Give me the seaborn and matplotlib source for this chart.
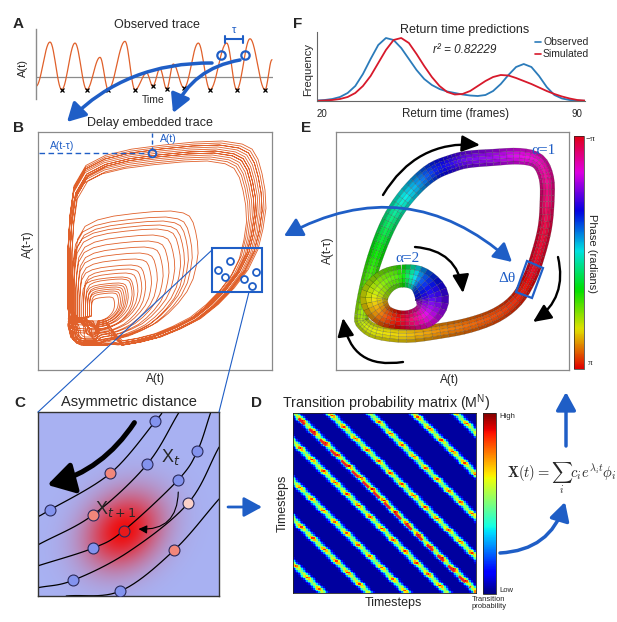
import numpy as np
import pandas as pd
import matplotlib
matplotlib.use("Agg")
import matplotlib.pyplot as plt
import matplotlib as mpl
import seaborn as sns
from matplotlib.patches import FancyArrowPatch, Polygon, Rectangle
from matplotlib.collections import PolyCollection
from matplotlib.colors import Normalize, ListedColormap

# ------------------------------------------------------------------ data
# A: extrema of the observed trace (time, amplitude above baseline)
trace_time = [0, 14, 25.7, 39, 50.7, 64, 72.3, 89, 99, 110.7, 116.7, 124, 130.7,
              137.3, 148, 162.3, 174, 190.7, 200.7, 214, 229, 236]
trace_amp = [-9.3, 35, -12.7, 34, -12.7, 19.7, -12.7, 35.7, -12.7, 4, -9.3, 8.3, -12,
             13, -11, 34, -12.7, 34, -12.7, 38.3, -12.7, 17.3]
trough_idx = [2, 4, 6, 8, 10, 12, 14, 16, 18, 20]
tau_times = [185, 209]

# B: pulse peaks / baselines per cycle and one-cycle pulse template
cycle_peak = [1.00, 0.96, 0.38, 0.30, 0.99, 0.93, 0.62, 0.55, 0.27, 0.34, 0.97, 1.02,
              0.64, 0.46, 0.31, 0.24, 0.98, 0.95, 0.52, 0.43, 0.29, 0.36, 0.96, 1.00,
              0.60, 0.58, 0.26, 0.40, 1.01, 0.94, 0.67, 0.49, 0.33, 0.28, 0.97, 0.92]
cycle_base = [0.00, 0.01, 0.08, 0.10, 0.00, 0.02, 0.03, 0.04, 0.11, 0.07, 0.01, 0.00,
              0.02, 0.05, 0.09, 0.12, 0.00, 0.01, 0.04, 0.06, 0.10, 0.08, 0.02, 0.00,
              0.02, 0.03, 0.12, 0.06, 0.00, 0.01, 0.03, 0.05, 0.09, 0.11, 0.01, 0.00]
pulse_profile = [0.0, 0.015, 0.04, 0.08, 0.13, 0.2, 0.28, 0.37, 0.47, 0.57, 0.67, 0.76, 0.84,
                 0.91, 0.96, 0.985, 1.0, 0.995, 0.98, 0.96, 0.93,
                 0.88, 0.78, 0.64, 0.48, 0.32, 0.19, 0.09, 0.03, 0.01, 0.0, 0.0, 0.0]
embed_delay = 6

# C: trajectories (normalised box coords) and neighbour points
traj_1 = [(0, 0.431), (0.064, 0.467), (0.4, 0.667), (0.648, 0.949), (0.688, 1.0)]
traj_2 = [(0, 0.278), (0.303, 0.44), (0.602, 0.715), (0.78, 1.0)]
traj_3 = [(0, 0.164), (0.303, 0.26), (0.473, 0.355), (0.774, 0.631), (0.88, 0.787), (0.955, 1.0)]
traj_4 = [(0, 0.045), (0.193, 0.085), (0.5, 0.24), (0.829, 0.504), (1.0, 0.809)]
traj_5 = [(0.156, 0), (0.455, 0.027), (0.752, 0.249), (1.0, 0.527)]
pts_blue = [(0.064, 0.467), (0.648, 0.949), (0.602, 0.715), (0.303, 0.26), (0.774, 0.631),
            (0.88, 0.787), (0.193, 0.085), (0.455, 0.027)]
pts_salmon = [(0.4, 0.667), (0.303, 0.44), (0.752, 0.249)]
pts_pink = [(0.829, 0.504)]
pt_next = (0.473, 0.355)

# D: transition-matrix stripes
stripe_offsets = [-0.835, -0.587, -0.376, -0.156, 0.01, 0.20, 0.42, 0.66, 0.89]
stripe_peaks = [0.70, 0.73, 0.70, 0.73, 0.76, 0.72, 0.70, 0.73, 0.70]
bead_levels = [0.85, 1.0, 1.22, 1.0, 0.85, 0.76, 0.8]

# E: tube centre lines (u, v), phase (units of pi), half width
outer_u = [0.110, 0.131, 0.167, 0.217, 0.274, 0.346, 0.417, 0.489, 0.560, 0.674, 0.789, 0.867,
           0.903, 0.906, 0.896, 0.867, 0.831, 0.774, 0.689, 0.574, 0.446, 0.303, 0.174, 0.117]
outer_v = [0.231, 0.344, 0.470, 0.596, 0.694, 0.778, 0.835, 0.865, 0.884, 0.893, 0.898, 0.877,
           0.806, 0.708, 0.596, 0.484, 0.386, 0.295, 0.231, 0.189, 0.164, 0.147, 0.161, 0.196]
outer_phase = [0.55, 0.45, 0.35, 0.20, 0.05, -0.12, -0.30, -0.40, -0.50, -0.58, -0.68, -0.75,
               -0.82, -0.88, -0.94, -0.98, -1.00, -1.05, -1.10, -1.15, -1.20, -1.28, -1.35, -1.40]
outer_hw = [0.030, 0.031, 0.033, 0.035, 0.036, 0.037, 0.038, 0.037, 0.036, 0.035, 0.034, 0.033,
            0.032, 0.031, 0.030, 0.030, 0.030, 0.030, 0.031, 0.032, 0.032, 0.032, 0.031, 0.030]
inner_u = [0.283, 0.361, 0.412, 0.382, 0.296, 0.202, 0.163, 0.210]
inner_v = [0.395, 0.378, 0.303, 0.231, 0.210, 0.231, 0.303, 0.370]
inner_phase = [0.35, -0.20, -0.45, -0.70, -0.95, -1.15, -1.35, -1.50]
inner_hw = [0.047, 0.056, 0.073, 0.056, 0.039, 0.047, 0.060, 0.052]

# F: return-time densities
frames = list(range(20, 91, 2))
observed = [0.5, 1, 2, 4, 8, 15, 27, 42, 56, 63, 61, 53, 42, 31, 22, 16, 12, 9.5, 8, 6.5,
            5.5, 5, 6, 10, 17, 26, 34, 37, 34, 25, 14, 6, 2.5, 1, 0.4, 0.2]
simulated = [0.2, 0.5, 1, 2, 4, 8, 15, 25, 38, 51, 61, 63, 58, 47, 35, 24, 15, 9, 6.5, 7,
             10, 15, 20, 24, 26, 25.5, 23, 20, 17, 13.5, 10, 7, 4.5, 2.5, 1, 0.4]

# ------------------------------------------------------------------ style
sns.set_style("white")
plt.rcParams['font.family'] = ['Liberation Sans', 'DejaVu Sans']
SERIF = ['Liberation Serif', 'DejaVu Serif']
BLUE = '#1f5ec6'
ORANGE = '#e0602a'
W, H = 617, 622

fig = plt.figure(figsize=(W / 100, H / 100), dpi=100)


def px_axes(x0, y0, x1, y1, **kw):
    return fig.add_axes([x0 / W, 1 - y1 / H, (x1 - x0) / W, (y1 - y0) / H], **kw)


def cosine_path(times, amps, per=14):
    xs, ys = [], []
    for i in range(len(times) - 1):
        s = np.linspace(0, 1, per, endpoint=False)
        w = (1 - np.cos(np.pi * s)) / 2
        xs.append(times[i] + (times[i + 1] - times[i]) * s)
        ys.append(amps[i] + (amps[i + 1] - amps[i]) * w)
    xs.append([times[-1]]); ys.append([amps[-1]])
    return np.concatenate(xs), np.concatenate(ys)


def catmull(P, per, closed):
    P = np.asarray(P, float)
    n = len(P)
    if closed:
        shift = np.zeros(P.shape[1]); shift[2] = 2.0
        ext = np.vstack([P[-1] + shift, P, P[0] - shift, P[1] - shift])
        segs = range(1, n + 1)
    else:
        ext = np.vstack([2 * P[0] - P[1], P, 2 * P[-1] - P[-2]])
        segs = range(1, n)
    out = []
    for i in segs:
        p0, p1, p2, p3 = ext[i - 1], ext[i], ext[i + 1], ext[i + 2]
        for s in np.linspace(0, 1, per, endpoint=False):
            out.append(0.5 * ((2 * p1) + (-p0 + p2) * s + (2 * p0 - 5 * p1 + 4 * p2 - p3) * s ** 2
                              + (-p0 + 3 * p1 - 3 * p2 + p3) * s ** 3))
    out.append(ext[segs[-1] + 1])
    return np.array(out)


base_hsv = plt.get_cmap('hsv_r')(np.linspace(0, 1, 256))
base_hsv[:, :3] *= 0.88
PHASE_CMAP = ListedColormap(base_hsv)


def tube(ax, u, v, ph, hw, per, K=5):
    S = catmull(np.column_stack([u, v, ph, hw]), per, closed=True)
    C, phs, hws = S[:, :2], S[:, 2], S[:, 3]
    T = np.gradient(C, axis=0)
    T /= np.linalg.norm(T, axis=1, keepdims=True)
    Nn = np.column_stack([-T[:, 1], T[:, 0]])
    offs = np.linspace(-1, 1, K + 1)
    polys, cols = [], []
    for i in range(len(C) - 1):
        col = np.array(PHASE_CMAP((((phs[i] + phs[i + 1]) / 2 + 1) / 2) % 1))
        for j in range(K):
            a, b = offs[j], offs[j + 1]
            polys.append([C[i] + a * hws[i] * Nn[i], C[i] + b * hws[i] * Nn[i],
                          C[i + 1] + b * hws[i + 1] * Nn[i + 1], C[i + 1] + a * hws[i + 1] * Nn[i + 1]])
            m = (a + b) / 2
            shade = 0.70 + 0.30 * np.cos(m * np.pi / 2)
            c = col.copy(); c[:3] = np.clip(c[:3] * shade + 0.05 * (1 - abs(m)), 0, 1)
            cols.append(c)
    pc = PolyCollection(polys, facecolors=cols, edgecolors=(0.1, 0.1, 0.1, 0.35), linewidths=0.3)
    ax.add_collection(pc)


# ------------------------------------------------------------------ A
axA = px_axes(36, 29, 273, 99)
tx, ty = cosine_path(trace_time, trace_amp)
axA.axhline(0, color='#8c8c8c', lw=0.9)
axA.plot(tx, ty, color=ORANGE, lw=0.9)
axA.plot([trace_time[i] for i in trough_idx], [trace_amp[i] for i in trough_idx], 'x',
         color='black', ms=3, mew=0.9)
tau_amp = np.interp(tau_times, tx, ty)
axA.plot(tau_times, tau_amp, 'o', mfc='none', mec=BLUE, ms=6, mew=1.6, zorder=5)
axA.set_xlim(0, 237); axA.set_ylim(-22, 48)
axA.set_xticks([]); axA.set_yticks([])
for k in ['top', 'right', 'bottom']:
    axA.spines[k].set_visible(False)
axA.spines['left'].set_color('#8c8c8c'); axA.spines['left'].set_linewidth(1)
axA.patch.set_alpha(0)

# ------------------------------------------------------------------ B
axB = px_axes(38, 132, 272, 370)
sig = np.concatenate([b + (p - b) * np.array(pulse_profile) for p, b in zip(cycle_peak, cycle_base)])
axB.plot(sig[embed_delay:], sig[:-embed_delay], color=ORANGE, lw=0.6)
axB.set_xlim(-0.155, 1.051); axB.set_ylim(-0.125, 1.065)
axB.set_xticks([]); axB.set_yticks([])
for s in axB.spines.values():
    s.set_color('#8a8a8a'); s.set_linewidth(0.9)

# ------------------------------------------------------------------ C
axC = px_axes(38, 412, 219, 596)
g = np.linspace(0, 1, 240)
GX, GY = np.meshgrid(g, g)
ang = np.deg2rad(40)
dx, dy = GX - pt_next[0], GY - pt_next[1]
ra = dx * np.cos(ang) + dy * np.sin(ang)
rb = -dx * np.sin(ang) + dy * np.cos(ang)
wgt = np.exp(-0.5 * ((ra / 0.16) ** 2 + (rb / 0.13) ** 2))
bg = np.array([168, 178, 243]) / 255
red = np.array([240, 12, 12]) / 255
img = bg[None, None, :] * (1 - wgt[..., None]) + red[None, None, :] * wgt[..., None]
axC.imshow(img, extent=(0, 1, 0, 1), origin='lower', aspect='auto', zorder=0)
for tr in [traj_1, traj_2, traj_3, traj_4, traj_5]:
    cc = catmull(tr, 12, closed=False)
    axC.plot(cc[:, 0], cc[:, 1], color='black', lw=0.9, zorder=2)
for pts, fc in [(pts_blue, '#8393ee'), (pts_salmon, '#f2877a'), (pts_pink, '#fbd0c8'), ([pt_next], '#e8191b')]:
    arr = np.array(pts)
    axC.scatter(arr[:, 0], arr[:, 1], s=62, c=fc, edgecolors='#2a2a5a', linewidths=0.8, zorder=4)
axC.add_patch(FancyArrowPatch((0.541, 0.955), (0.037, 0.6), connectionstyle='arc3,rad=-0.2',
                              arrowstyle='-|>,head_length=1.6,head_width=0.95', mutation_scale=10,
                              lw=3.6, color='black', zorder=5))
axC.add_patch(FancyArrowPatch((0.775, 0.58), (0.54, 0.365), connectionstyle='arc3,rad=-0.55',
                              arrowstyle='-|>,head_length=0.5,head_width=0.25', mutation_scale=10,
                              lw=0.8, color='black', zorder=5))
axC.text(0.734, 0.755, r'X$_t$', fontsize=13, ha='center', va='center', math_fontfamily='dejavusans')
axC.text(0.43, 0.475, r'X$_{t+1}$', fontsize=13, ha='center', va='center', math_fontfamily='dejavusans')
axC.set_xlim(0, 1); axC.set_ylim(0, 1)
axC.set_xticks([]); axC.set_yticks([])
for s in axC.spines.values():
    s.set_color('#333333'); s.set_linewidth(1.0)

# ------------------------------------------------------------------ D
axD = px_axes(293, 413, 476, 593)
caxD = px_axes(483, 413, 496, 594)
n = 110
r = (np.arange(n) + 0.5) / n
YY, XX = np.meshgrid(r, r, indexing='ij')
M = np.full((n, n), 0.03)
rows = np.arange(n)
for k, (c, a) in enumerate(zip(stripe_offsets, stripe_peaks)):
    bead = np.array(bead_levels)[(rows + 3 * k) % len(bead_levels)][:, None]
    M = np.maximum(M, a * bead * np.exp(-0.5 * ((XX - YY - c) / 0.017) ** 2))
sns.heatmap(M, ax=axD, cbar_ax=caxD, cmap='jet', vmin=0, vmax=1,
            xticklabels=False, yticklabels=False)
axD.plot([0.03 * n, 0.97 * n], [0.03 * n, 0.97 * n], color='#e8202a', lw=1.8,
         ls=(0, (3.5, 2.5)))
for s in axD.spines.values():
    s.set_visible(True); s.set_color('#222222'); s.set_linewidth(0.6)
cbD = axD.collections[0].colorbar
cbD.set_ticks([])
cbD.outline.set_linewidth(0.6)

# ------------------------------------------------------------------ E
axE = px_axes(336, 132, 569, 370)
tube(axE, outer_u, outer_v, outer_phase, outer_hw, per=4)
tube(axE, inner_u, inner_v, inner_phase, inner_hw, per=5)
axE.set_xlim(0, 1); axE.set_ylim(0, 1)
axE.set_xticks([]); axE.set_yticks([])
for s in axE.spines.values():
    s.set_color('#8a8a8a'); s.set_linewidth(0.9)
caxE = px_axes(574, 136, 584, 369)
cbE = mpl.colorbar.ColorbarBase(caxE, cmap=PHASE_CMAP, norm=Normalize(-np.pi, np.pi))
caxE.invert_yaxis()
cbE.set_ticks([])
cbE.outline.set_linewidth(0.5)

# ------------------------------------------------------------------ F
axF = px_axes(317, 32, 585, 101)
dfF = pd.DataFrame({'frames': frames * 2, 'freq': observed + simulated,
                    'series': ['Observed'] * len(frames) + ['Simulated'] * len(frames)})
sns.lineplot(data=dfF, x='frames', y='freq', hue='series', ax=axF, legend=False,
             palette={'Observed': '#2b7bba', 'Simulated': '#d7192b'}, lw=1.3)
axF.set_xlim(20, 90); axF.set_ylim(0, 69)
axF.set_xticks([]); axF.set_yticks([])
axF.set_xlabel(''); axF.set_ylabel('')
for k in ['top', 'right']:
    axF.spines[k].set_visible(False)
for k in ['left', 'bottom']:
    axF.spines[k].set_color('#666666'); axF.spines[k].set_linewidth(0.8)
axF.patch.set_alpha(0)

# ------------------------------------------------------------------ overlay
ov = fig.add_axes([0, 0, 1, 1], zorder=20)
ov.set_xlim(0, W); ov.set_ylim(H, 0); ov.axis('off'); ov.patch.set_alpha(0)


def T(x, y, s, size=9, **kw):
    ov.text(x, y, s, fontsize=size, ha=kw.pop('ha', 'center'), va=kw.pop('va', 'center'), **kw)


def arrow(p0, p1, rad=0.0, color=BLUE, lw=2.5, hl=1.1, hw=0.6, both=False):
    st = ('<|-|>' if both else '-|>') + f',head_length={hl},head_width={hw}'
    ov.add_patch(FancyArrowPatch(p0, p1, connectionstyle=f'arc3,rad={rad}', arrowstyle=st,
                                 mutation_scale=10, lw=lw, color=color, shrinkA=0, shrinkB=0))


# panel letters
for lab, (x, y) in {'A': (18, 24), 'B': (18, 128), 'C': (20, 403), 'D': (257, 403),
                    'E': (306, 128), 'F': (298, 24)}.items():
    T(x, y, lab, 11, fontweight='bold')

# titles and labels
T(157, 25, 'Observed trace', 9)
T(153, 100, 'Time', 7.5)
T(23, 68, 'A(t)', 8, rotation=90)
T(150, 123, 'Delay embedded trace', 9)
T(28, 244, 'A(t-τ)', 8.5, rotation=90)
T(156, 379, 'A(t)', 8.5)
T(129, 402, 'Asymmetric distance', 10.5)
T(386, 403, r'Transition probability matrix (M$^\mathregular{N}$)', 10.3)
T(283, 503, 'Timesteps', 9, rotation=90)
T(393, 603, 'Timesteps', 9)
T(499, 416, 'High', 5.5, ha='left')
T(499, 591, 'Low', 5.5, ha='left')
T(489, 603, 'Transition\nprobability', 5.5, linespacing=1.0)
T(328, 250, 'A(t-τ)', 8.5, rotation=90)
T(450, 380, 'A(t)', 8.5)
T(592, 253, 'Phase (radians)', 8, rotation=270)
T(590, 139, '−π', 6.5, family=SERIF)
T(590, 363, 'π', 6.5, family=SERIF)
T(465, 30, 'Return time predictions', 9)
T(465, 50, 'r² = 0.82229', 8.5, style='italic')
T(308, 69, 'Frequency', 8, rotation=90)
T(322, 114, '20', 7)
T(577, 114, '90', 7)
T(455, 114, 'Return time (frames)', 8.4)
ov.plot([535, 541], [42, 42], color='#2b7bba', lw=1.2)
ov.plot([535, 541], [54, 54], color='#d7192b', lw=1.2)
T(543, 42, 'Observed', 7.5, ha='left')
T(543, 54, 'Simulated', 7.5, ha='left')
T(543, 150, 'α=1', 11, color=BLUE, family=SERIF)
T(407, 258, 'α=2', 11, color=BLUE, family=SERIF)
T(507, 279, 'Δθ', 11, color=BLUE, family=SERIF)
T(562, 478, r'$\mathbf{X}(t) = \sum_i c_i e^{\lambda_i t}\phi_i$', 10.5, math_fontfamily='cm')

# tau bracket
ov.plot([225, 243], [39, 39], color=BLUE, lw=1.5)
ov.plot([225, 225], [35.5, 42.5], color=BLUE, lw=1.5)
ov.plot([243, 243], [35.5, 42.5], color=BLUE, lw=1.5)
T(234, 30, 'τ', 8, color=BLUE)

# B annotations
ov.plot([39, 148], [153, 153], color=BLUE, lw=1.0, ls=(0, (4, 2.5)))
ov.plot([152, 152], [133, 149], color=BLUE, lw=1.0, ls=(0, (3, 2)))
ov.plot([152], [153], 'o', mfc='none', mec=BLUE, ms=5.5, mew=1.4)
T(62, 146, 'A(t-τ)', 7.5, color=BLUE)
T(168, 139, 'A(t)', 7.5, color=BLUE)
ov.add_patch(Rectangle((212, 248), 50, 44, fill=False, ec=BLUE, lw=1.5))
for (x, y) in [(230, 261), (218, 270), (225, 277), (244, 279), (256, 272), (252, 286)]:
    ov.plot([x], [y], 'o', mfc='none', mec=BLUE, ms=5, mew=1.3)
ov.plot([212, 38], [250, 412], color=BLUE, lw=0.8)
ov.plot([249, 219], [292, 412], color=BLUE, lw=0.8)

# E annotations
ov.add_patch(Polygon([(527, 261), (543, 268), (532, 298), (516, 292)], closed=True,
                     fill=False, ec=BLUE, lw=1.6))
arrow((383, 195), (480, 145), rad=-0.31, color='black', lw=1.7, hl=1.1, hw=0.5)
arrow((558, 257), (533, 322), rad=-0.34, color='black', lw=1.7, hl=1.1, hw=0.5)
arrow((403, 362), (343, 318), rad=-0.5, color='black', lw=1.7, hl=1.1, hw=0.5)
arrow((415, 247), (463, 293), rad=-0.41, color='black', lw=1.7, hl=1.1, hw=0.5)

# blue connecting arrows
arrow((212, 63), (67, 122), rad=0.21)
arrow((240, 60), (173, 113), rad=0.27)
arrow((284, 236), (512, 262), rad=-0.35, lw=2.0, both=True)
arrow((228, 507), (262, 507), rad=0.0, lw=2.0)
arrow((500, 553), (565, 502), rad=0.35)
arrow((566, 446), (566, 392), rad=0.0)

fig.savefig('out.png', dpi=100)
